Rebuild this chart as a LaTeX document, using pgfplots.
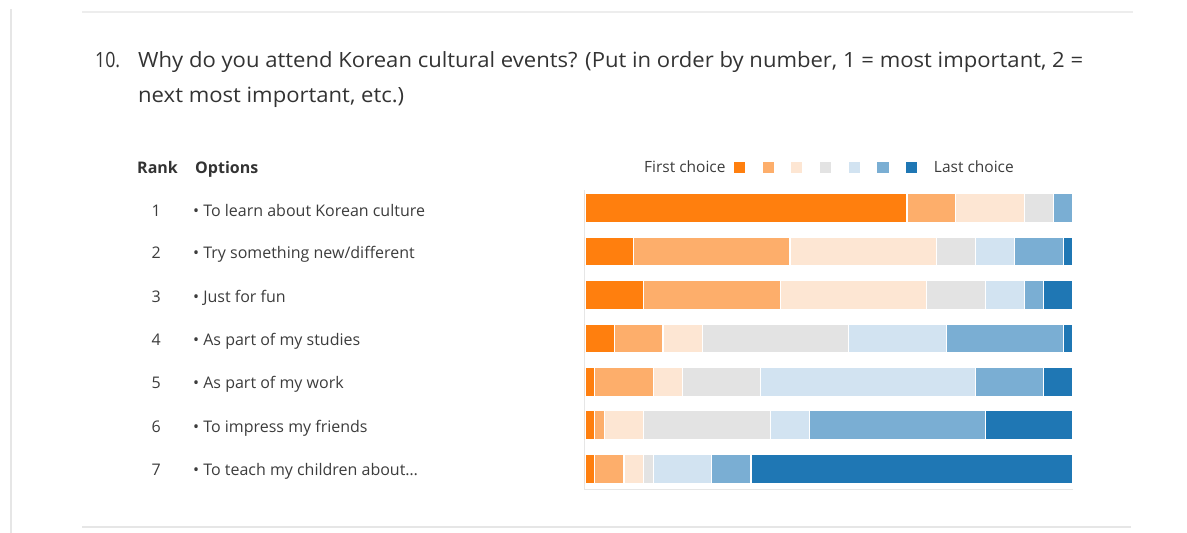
\documentclass[border=0pt]{standalone}
\usepackage{pgfplots}
\pgfplotsset{compat=1.18}
\usepackage{pgfplotstable}
\usepackage{graphicx}
\usepackage{fontspec}
\setmainfont{Open Sans}

\definecolor{cA}{HTML}{FF7F0E}
\definecolor{cB}{HTML}{FDAE6B}
\definecolor{cC}{HTML}{FDE6D3}
\definecolor{cD}{HTML}{E3E3E3}
\definecolor{cE}{HTML}{D2E3F1}
\definecolor{cF}{HTML}{7AAED3}
\definecolor{cG}{HTML}{1F77B4}
\definecolor{txt}{HTML}{3C3C3C}
\definecolor{ttl}{HTML}{333333}
\definecolor{frm}{HTML}{E6E6E6}

% y: row 1 (top) = 7 ... row 7 (bottom) = 1 ; counts out of 50 respondents
\pgfplotstableread{
y c1 c2 c3 c4 c5 c6 c7
7 33 5 7 3 0 2 0
6 5 16 15 4 4 5 1
5 6 14 15 6 4 2 3
4 3 5 4 15 10 12 1
3 1 6 3 8 22 7 3
2 1 1 4 13 4 18 9
1 1 3 2 1 6 4 33
}\ranks

\newlength\tw
\begin{document}%
\settowidth{\tw}{\fontsize{21}{25}\selectfont Why do you attend Korean cultural events? (Put in order by number, 1 = most important, 2 =}%
\pgfmathsetmacro\sx{945pt/\tw}%
\begin{tikzpicture}[x=1pt,y=1pt]
\begin{axis}[
  anchor=south west,
  scale only axis, width=488pt, height=300pt,
  xbar stacked, bar width=0.671,
  xmin=0, xmax=50, ymin=0.517, ymax=7.414,
  axis lines*=left,
  axis line style={draw=frm, line width=1pt},
  xtick=\empty,
  ytick={1,...,7},
  major tick length=0pt,
  yticklabels={
    {\makebox[32pt][c]{7}\hspace{21pt}• To teach my children about…},
    {\makebox[32pt][c]{6}\hspace{21pt}• To impress my friends},
    {\makebox[32pt][c]{5}\hspace{21pt}• As part of my work},
    {\makebox[32pt][c]{4}\hspace{21pt}• As part of my studies},
    {\makebox[32pt][c]{3}\hspace{21pt}• Just for fun},
    {\makebox[32pt][c]{2}\hspace{21pt}• Try something new/different},
    {\makebox[32pt][c]{1}\hspace{21pt}• To learn about Korean culture}},
  yticklabel style={anchor=west, xshift=-445pt, yshift=-2.5pt, inner sep=0pt,
    text=txt, font=\fontsize{16}{19}\selectfont},
  sq/.style={legend image code/.code={\fill[#1] (8.25pt,-5pt) rectangle (18.25pt,5pt); \path (0pt,0pt) (26.5pt,0pt);}},
  legend plot pos=right,
  legend columns=-1,
  legend style={at={(rel axis cs:0.5,1.075)}, anchor=center, draw=none, fill=none,
    inner sep=0pt, column sep=0pt, text=txt, font=\fontsize{15.5}{18}\selectfont,
    /tikz/every node/.append style={inner sep=0pt}},
]
\addplot[fill=cA, draw=white, line width=1.2pt, sq=cA] table[x=c1, y=y] {\ranks};
\addplot[fill=cB, draw=white, line width=1.2pt, sq=cB] table[x=c2, y=y] {\ranks};
\addplot[fill=cC, draw=white, line width=1.2pt, sq=cC] table[x=c3, y=y] {\ranks};
\addplot[fill=cD, draw=white, line width=1.2pt, sq=cD] table[x=c4, y=y] {\ranks};
\addplot[fill=cE, draw=white, line width=1.2pt, sq=cE] table[x=c5, y=y] {\ranks};
\addplot[fill=cF, draw=white, line width=1.2pt, sq=cF] table[x=c6, y=y] {\ranks};
\addplot[fill=cG, draw=white, line width=1.2pt, sq=cG] table[x=c7, y=y] {\ranks};
\addlegendimage{empty legend}
\legend{First choice\hspace{11.75pt}, \mbox{}, \mbox{}, \mbox{}, \mbox{}, \mbox{}, \mbox{}, \hspace{8.5pt}Last choice}
\end{axis}
\begin{scope}[shift={(-585pt,490pt)}]
\draw[frm, line width=2pt] (11,-9) -- (11,-533);
\draw[frm!70, line width=1.5pt] (82,-12) -- (1133,-12);
\draw[frm, line width=1.5pt] (82,-527) -- (1131,-527);
\node[anchor=base west, inner sep=0pt, text=ttl, font=\fontsize{21}{25}\selectfont] at (95,-68) {\resizebox{25pt}{\height}{10.}};
\node[anchor=base west, inner sep=0pt, text=ttl, font=\fontsize{21}{25}\selectfont] at (138,-68) {\scalebox{\sx}[1]{Why do you attend Korean cultural events? (Put in order by number, 1 = most important, 2 =}};
\node[anchor=base west, inner sep=0pt, text=ttl, font=\fontsize{21}{25}\selectfont] at (138,-103) {\scalebox{\sx}[1]{next most important, etc.)}};
\node[anchor=base west, inner sep=0pt, text=ttl, font=\fontsize{16}{19}\selectfont\bfseries] at (137,-174) {Rank};
\node[anchor=base west, inner sep=0pt, text=ttl, font=\fontsize{16}{19}\selectfont\bfseries] at (195,-174) {Options};
\pgfresetboundingbox
\useasboundingbox (0,0) rectangle (1187,-533);
\end{scope}
\end{tikzpicture}%
\end{document}
